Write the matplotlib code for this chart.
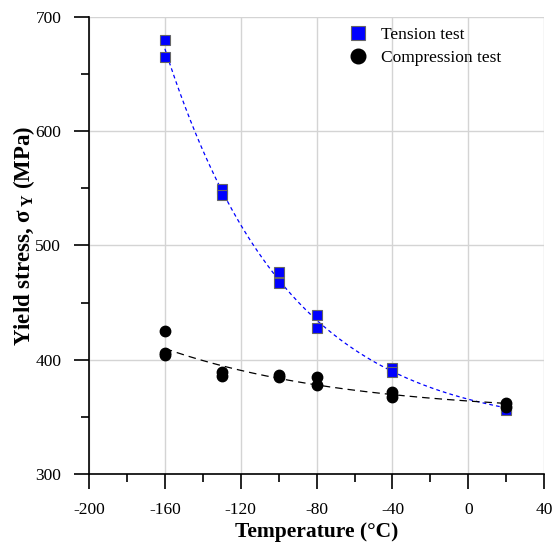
import matplotlib
matplotlib.use("Agg")
import matplotlib.pyplot as plt
import numpy as np

plt.rcParams["font.family"] = ["Liberation Serif", "DejaVu Serif"]
plt.rcParams["mathtext.fontset"] = "custom"
plt.rcParams["mathtext.rm"] = "Liberation Serif"
plt.rcParams["mathtext.bf"] = "Liberation Serif:bold"
plt.rcParams["axes.unicode_minus"] = False

# tension test (blue squares)
tension_t = [-160, -160, -130, -130, -100, -100, -80, -80, -40, -40, 20, 20]
tension_s = [680, 665, 549, 544, 477, 467, 439, 428, 393, 389, 358, 356]

# compression test (black circles)
comp_t = [-160, -160, -160, -130, -130, -100, -100, -80, -80, -40, -40, 20, 20]
comp_s = [425, 406, 404, 389, 386, 387, 385, 385, 378, 372, 367, 362, 359]

x_ticks = [-200, -160, -120, -80, -40, 0, 40]
y_ticks = [300, 400, 500, 600, 700]


def exp_fit(x, y):
    # y = a + b*exp(k*x), scan k and solve a, b by least squares
    x = np.asarray(x, float)
    y = np.asarray(y, float)
    best = None
    for k in np.linspace(-0.1, -0.001, 400):
        A = np.column_stack([np.ones_like(x), np.exp(k * x)])
        coef, res, _, _ = np.linalg.lstsq(A, y, rcond=None)
        err = np.sum((A @ coef - y) ** 2)
        if best is None or err < best[0]:
            best = (err, k, coef)
    _, k, coef = best
    xs = np.linspace(x.min(), x.max(), 200)
    return xs, coef[0] + coef[1] * np.exp(k * xs)


fig = plt.figure(figsize=(5.53, 5.43), dpi=100)
ax = fig.add_axes([0.161, 0.127, 0.823, 0.842])

xs, ys = exp_fit(tension_t, tension_s)
ax.plot(xs, ys, color="blue", lw=0.9, dashes=(3, 2.5), zorder=2)
xs, ys = exp_fit(comp_t, comp_s)
ax.plot(xs, ys, color="black", lw=0.9, dashes=(6, 4), zorder=2)

ax.plot(tension_t, tension_s, "s", color="blue", mec="#666666", mew=0.8,
        ms=7.5, ls="none", label="Tension test", zorder=3)
ax.plot(comp_t, comp_s, "o", color="black", ms=7.5, ls="none",
        label="Compression test", zorder=3)

ax.set_xlim(-200, 40)
ax.set_ylim(300, 700)
ax.set_xticks(x_ticks)
ax.set_yticks(y_ticks)
ax.set_xticks([-180, -140, -100, -60, -20, 20], minor=True)
ax.set_yticks([350, 450, 550, 650], minor=True)
ax.tick_params(which="major", direction="out", length=11, width=1.2,
               labelsize=12.5, pad=9)
ax.tick_params(which="minor", direction="out", length=6, width=1.2)
ax.grid(True, which="major", color="#d4d4d4", lw=1)
ax.set_axisbelow(True)

for s in ["top", "right"]:
    ax.spines[s].set_visible(False)
for s in ["left", "bottom"]:
    ax.spines[s].set_linewidth(1.2)

ax.set_xlabel("Temperature (°C)", fontsize=15.5, fontweight="bold", labelpad=3)
ax.set_ylabel("Yield stress, σ$_{\\,\\mathbf{Y}}$ (MPa)", fontsize=16.5,
              fontweight="bold")
ax.yaxis.set_label_coords(-0.115, 0.52)

ax.legend(loc="upper left", bbox_to_anchor=(0.53, 1.0), frameon=False,
          fontsize=12.5, handletextpad=0.3, borderaxespad=0.2,
          markerscale=1.4, labelspacing=0.35)

fig.savefig("out.png", dpi=100)
